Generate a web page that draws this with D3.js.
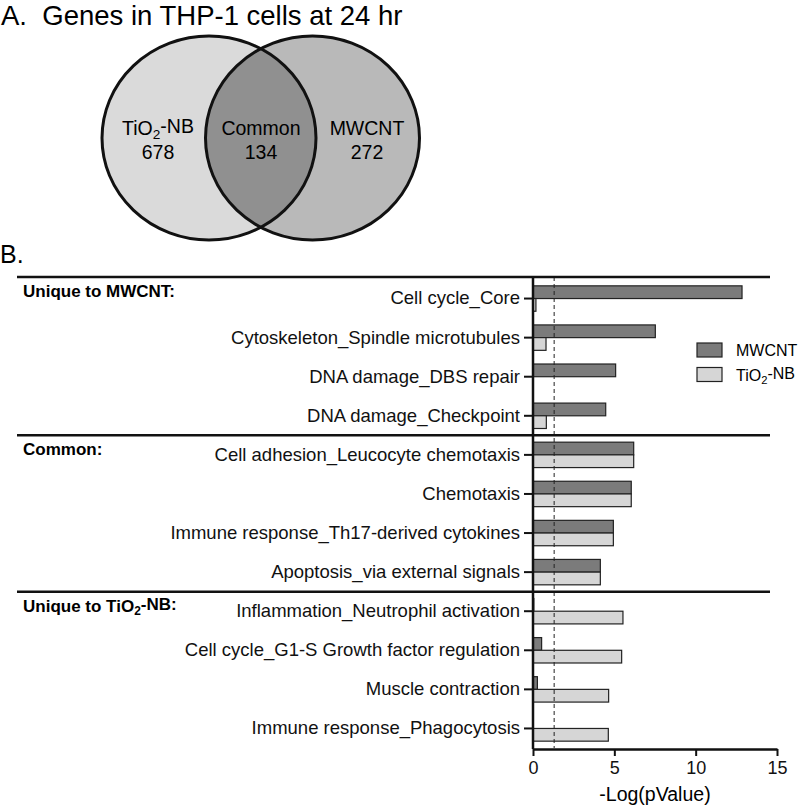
<!DOCTYPE html>
<html>
<head>
<meta charset="utf-8">
<script src="https://cdn.jsdelivr.net/npm/d3@7"></script>
<style>
  body { margin: 0; background: #fff; }
  svg { display: block; font-family: "Liberation Sans", Arial, sans-serif; }
</style>
</head>
<body>
<svg id="chart"></svg>
<script>
// values
const categories = [
  "Cell cycle_Core",
  "Cytoskeleton_Spindle microtubules",
  "DNA damage_DBS repair",
  "DNA damage_Checkpoint",
  "Cell adhesion_Leucocyte chemotaxis",
  "Chemotaxis",
  "Immune response_Th17-derived cytokines",
  "Apoptosis_via external signals",
  "Inflammation_Neutrophil activation",
  "Cell cycle_G1-S Growth factor regulation",
  "Muscle contraction",
  "Immune response_Phagocytosis"
];
const mwcnt = [12.85, 7.52, 5.08, 4.47, 6.19, 6.04, 4.94, 4.14, 0.05, 0.53, 0.27, 0];
const tio2 = [0.18, 0.8, 0, 0.82, 6.19, 6.04, 4.94, 4.14, 5.53, 5.45, 4.65, 4.63];
const seriesNames = ["MWCNT", "TiO2-NB"];
const groupLabels = ["Unique to MWCNT:", "Common:", "Unique to TiO2-NB:"];
const groupStarts = [0, 4, 8];
const xTicks = [0, 5, 10, 15];
const threshold = 1.3; // -log(0.05)

const vennLabels = ["TiO2-NB", "Common", "MWCNT"];
const vennCounts = [678, 134, 272];

const width = 800, height = 807;
const svg = d3.select("#chart").attr("width", width).attr("height", height);

// writes "TiO2-NB" style strings with a subscript 2
function subText(sel, str) {
  const parts = str.split("O2");
  if (parts.length === 1) { sel.text(str); return; }
  sel.append("tspan").text(parts[0] + "O");
  sel.append("tspan").text("2").attr("font-size", "70%").attr("dy", "0.3em");
  sel.append("tspan").text(parts[1]).attr("dy", "-0.3em");
}

// ---- A. Venn ----
svg.append("text")
  .attr("x", 1).attr("y", 25)
  .attr("font-size", 27.5)
  .text("A.\u00a0 Genes in THP-1 cells at 24 hr");

const rx = 107, ry = 102, cy = 138;
const cxs = [209, 312.5];
const defs = svg.append("defs");
defs.append("clipPath").attr("id", "leftClip")
  .append("ellipse").attr("cx", cxs[0]).attr("cy", cy).attr("rx", rx).attr("ry", ry);

const venn = svg.append("g");
venn.append("ellipse").attr("cx", cxs[0]).attr("cy", cy).attr("rx", rx).attr("ry", ry)
  .attr("fill", "#dadada");
venn.append("ellipse").attr("cx", cxs[1]).attr("cy", cy).attr("rx", rx).attr("ry", ry)
  .attr("fill", "#b9b9b9");
venn.append("ellipse").attr("cx", cxs[1]).attr("cy", cy).attr("rx", rx).attr("ry", ry)
  .attr("clip-path", "url(#leftClip)")
  .attr("fill", "#909090");
cxs.forEach(cx => {
  venn.append("ellipse").attr("cx", cx).attr("cy", cy).attr("rx", rx).attr("ry", ry)
    .attr("fill", "none").attr("stroke", "#111").attr("stroke-width", 3);
});

const vennX = [158, 261, 367];
vennLabels.forEach((lab, i) => {
  const t = venn.append("text").attr("x", vennX[i]).attr("y", 135)
    .attr("text-anchor", "middle").attr("font-size", 19.5);
  subText(t, lab);
  venn.append("text").attr("x", vennX[i]).attr("y", 159)
    .attr("text-anchor", "middle").attr("font-size", 19.5)
    .text(vennCounts[i]);
});

// ---- B. Bar chart ----
svg.append("text").attr("x", 0).attr("y", 263).attr("font-size", 25).text("B.");

const x = d3.scaleLinear().domain([0, 15]).range([533, 777]);
const y = d3.scaleBand().domain(categories).range([279, 748])
  .paddingInner(0.35).paddingOuter(0.175);
const ySub = d3.scaleBand().domain(seriesNames).range([0, y.bandwidth()]);
const colors = { "MWCNT": "#7b7b7b", "TiO2-NB": "#d6d6d6" };

const rows = categories.map((c, i) => ({ cat: c, values: [
  { key: "MWCNT", v: mwcnt[i] }, { key: "TiO2-NB", v: tio2[i] }
]}));

const bars = svg.append("g");
bars.selectAll("g.row").data(rows).join("g")
  .attr("class", "row")
  .attr("transform", d => `translate(0,${y(d.cat)})`)
  .selectAll("rect").data(d => d.values.filter(e => e.v > 0)).join("rect")
  .attr("x", x(0))
  .attr("y", d => ySub(d.key))
  .attr("width", d => x(d.v) - x(0))
  .attr("height", ySub.bandwidth())
  .attr("fill", d => colors[d.key])
  .attr("stroke", "#222")
  .attr("stroke-width", 1.2);

// significance threshold
svg.append("line")
  .attr("x1", x(threshold)).attr("x2", x(threshold))
  .attr("y1", 277).attr("y2", 748)
  .attr("stroke", "#222").attr("stroke-width", 1)
  .attr("stroke-dasharray", "4,3");

// group separators + headers
const step = y.step();
groupStarts.forEach((s, i) => {
  const yy = y(categories[s]) - (step - y.bandwidth()) / 2 - (i === 0 ? 2 : 0);
  svg.append("line").attr("x1", 17).attr("x2", 770).attr("y1", yy).attr("y2", yy)
    .attr("stroke", "#111").attr("stroke-width", 2.5);
  const t = svg.append("text").attr("x", 23).attr("y", yy + 20)
    .attr("font-size", 17).attr("font-weight", "bold");
  subText(t, groupLabels[i]);
});

// y axis
const yAxis = svg.append("g").attr("transform", `translate(${x(0)},0)`)
  .call(d3.axisLeft(y).tickSize(9).tickPadding(4).tickSizeOuter(0));
yAxis.select(".domain").remove();
yAxis.selectAll(".tick line").attr("stroke", "#111").attr("stroke-width", 2);
yAxis.selectAll(".tick text").attr("font-size", 18.5).attr("fill", "#111")
  .style("font-family", "'Liberation Sans', Arial, sans-serif");
svg.append("line").attr("x1", x(0)).attr("x2", x(0)).attr("y1", 277).attr("y2", 749)
  .attr("stroke", "#111").attr("stroke-width", 2.5);

// x axis
const xAxis = svg.append("g").attr("transform", "translate(0,749)")
  .call(d3.axisBottom(x).tickValues(xTicks).tickSize(7).tickPadding(5).tickSizeOuter(0));
xAxis.select(".domain").attr("stroke", "#111").attr("stroke-width", 2.5);
xAxis.selectAll(".tick line").attr("stroke", "#111").attr("stroke-width", 2);
xAxis.selectAll(".tick text").attr("font-size", 18).attr("fill", "#111")
  .style("font-family", "'Liberation Sans', Arial, sans-serif");

svg.append("text").attr("x", (x(0) + x(15)) / 2).attr("y", 801)
  .attr("text-anchor", "middle").attr("font-size", 19.5)
  .text("-Log(pValue)");

// legend
const legend = svg.append("g");
seriesNames.forEach((name, i) => {
  const ly = 343 + i * 24.5;
  legend.append("rect").attr("x", 697).attr("y", ly).attr("width", 25).attr("height", 14)
    .attr("fill", colors[name]).attr("stroke", "#222").attr("stroke-width", 1.2);
  const t = legend.append("text").attr("x", 736).attr("y", ly + 13).attr("font-size", 16);
  subText(t, name);
});
</script>
</body>
</html>
